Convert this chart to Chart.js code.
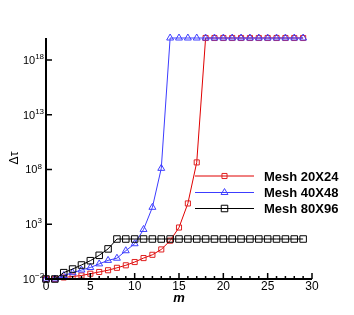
<!DOCTYPE html>
<html>
<head>
<meta charset="utf-8">
<script src="https://cdn.jsdelivr.net/npm/chart.js@4.4.1/dist/chart.umd.min.js"></script>
<style>
  html, body { margin: 0; padding: 0; background: #fff; }
</style>
</head>
<body>
<canvas id="c" width="354" height="315"></canvas>
<script>
// iteration index m
const mValues = [0, 1, 2, 3, 4, 5, 6, 7, 8, 9, 10, 11, 12, 13, 14,
                 15, 16, 17, 18, 19, 20, 21, 22, 23, 24, 25, 26, 27, 28, 29];

// delta tau
const mesh20 = [1e-2, 1e-2, 0.0138, 0.017, 0.0209, 0.0302, 0.0437, 0.0631, 0.105, 0.178,
                0.355, 0.813, 1.62, 5.0, 31.6, 501, 7.9e4, 4.4e8, 1e20, 1e20,
                1e20, 1e20, 1e20, 1e20, 1e20, 1e20, 1e20, 1e20, 1e20, 1e20];
const mesh40 = [1e-2, 1e-2, 0.0209, 0.0372, 0.066, 0.112, 0.24, 0.5, 0.79, 3.8,
                16.6, 331, 3.5e4, 1.26e8, 1e20, 1e20, 1e20, 1e20, 1e20, 1e20,
                1e20, 1e20, 1e20, 1e20, 1e20, 1e20, 1e20, 1e20, 1e20, 1e20];
const mesh80 = [1e-2, 1e-2, 0.038, 0.081, 0.19, 0.47, 1.45, 5.6, 44.7, 44.7,
                44.7, 44.7, 44.7, 44.7, 44.7, 44.7, 44.7, 44.7, 44.7, 44.7,
                44.7, 44.7, 44.7, 44.7, 44.7, 44.7, 44.7, 44.7, 44.7, 44.7];

const seriesNames = ["Mesh 20X24", "Mesh 40X48", "Mesh 80X96"];
const xTicks = [0, 5, 10, 15, 20, 25, 30];
const yTickExps = [-2, 3, 8, 13, 18];

const FONT = "'Liberation Sans', Arial, Helvetica, sans-serif";

function pts(vals) {
    return vals.map((v, i) => ({ x: mValues[i], y: v }));
}

// axes, ticks, labels and legend are drawn by hand (tecplot look)
const decor = {
    id: "decor",
    afterDatasetsDraw(chart) {
        const ctx = chart.ctx;
        const xs = chart.scales.x;
        const ys = chart.scales.y;
        const left = xs.getPixelForValue(0);
        const right = xs.getPixelForValue(30);
        const bottom = ys.getPixelForValue(1e-2);
        const top = ys.getPixelForValue(1e20);

        ctx.save();
        ctx.strokeStyle = "#000";
        ctx.lineWidth = 2;
        ctx.beginPath();
        ctx.moveTo(left, top);
        ctx.lineTo(left, bottom);
        ctx.lineTo(right, bottom);
        ctx.stroke();

        // x ticks (inward)
        ctx.lineWidth = 1.5;
        ctx.beginPath();
        for (let m = 0; m <= 30; m++) {
            const px = xs.getPixelForValue(m);
            const len = m % 5 === 0 ? 6 : 3;
            ctx.moveTo(px, bottom);
            ctx.lineTo(px, bottom - len);
        }
        // y ticks
        yTickExps.forEach(e => {
            const py = ys.getPixelForValue(Math.pow(10, e));
            ctx.moveTo(left, py);
            ctx.lineTo(left + 6, py);
        });
        ctx.stroke();

        ctx.fillStyle = "#000";
        ctx.font = "12px " + FONT;
        ctx.textAlign = "center";
        ctx.textBaseline = "middle";
        xTicks.forEach(t => {
            ctx.fillText(String(t), xs.getPixelForValue(t), bottom + 8);
        });

        yTickExps.forEach(e => {
            const py = ys.getPixelForValue(Math.pow(10, e));
            ctx.font = "11px " + FONT;
            const w1 = ctx.measureText("10").width;
            ctx.font = "8px " + FONT;
            const sup = String(e).replace("-", "\u2212");
            const w2 = ctx.measureText(sup).width;
            const x0 = 33.5 - (w1 + w2) / 2;
            ctx.textAlign = "left";
            ctx.font = "11px " + FONT;
            ctx.fillText("10", x0, py + 1);
            ctx.font = "8px " + FONT;
            ctx.fillText(sup, x0 + w1, py - 3);
        });

        // axis titles
        ctx.textAlign = "center";
        ctx.font = "italic bold 13px " + FONT;
        ctx.fillText("m", xs.getPixelForValue(15), 298);
        ctx.save();
        ctx.translate(15, 158);
        ctx.rotate(-Math.PI / 2);
        ctx.font = "12px " + FONT;
        ctx.fillText("\u0394\u03c4", 0, 0);
        ctx.restore();

        // legend
        const rows = [176, 192.5, 208.5];
        chart.data.datasets.forEach((ds, i) => {
            const y = rows[i];
            ctx.strokeStyle = ds.borderColor;
            ctx.lineWidth = 1;
            ctx.beginPath();
            ctx.moveTo(195, y);
            ctx.lineTo(254, y);
            ctx.stroke();
            ctx.lineWidth = ds.pointBorderWidth;
            ctx.strokeStyle = ds.pointBorderColor;
            ctx.fillStyle = "rgba(0,0,0,0)";
            Chart.helpers.drawPoint(ctx, {
                pointStyle: ds.pointStyle,
                radius: ds.pointRadius,
                borderWidth: ds.pointBorderWidth,
                rotation: 0
            }, 224.5, y);
            ctx.fillStyle = "#000";
            ctx.font = "bold 13px " + FONT;
            ctx.textAlign = "left";
            ctx.fillText(seriesNames[i], 264, y + 1);
        });
        ctx.restore();
    }
};

new Chart(document.getElementById("c"), {
    type: "line",
    data: {
        datasets: [
            {
                label: seriesNames[0],
                data: pts(mesh20),
                borderColor: "#e00000",
                pointBorderColor: "#e02020",
                pointBackgroundColor: "rgba(0,0,0,0)",
                pointStyle: "rect",
                pointRadius: 3.6,
                pointBorderWidth: 1,
                borderWidth: 1,
                order: 3,
                clip: false
            },
            {
                label: seriesNames[1],
                data: pts(mesh40),
                borderColor: "#3c3cff",
                pointBorderColor: "#4040ff",
                pointBackgroundColor: "rgba(0,0,0,0)",
                pointStyle: "triangle",
                pointRadius: 4,
                pointBorderWidth: 1,
                borderWidth: 1,
                order: 2,
                clip: false
            },
            {
                label: seriesNames[2],
                data: pts(mesh80),
                borderColor: "#000000",
                pointBorderColor: "#000000",
                pointBackgroundColor: "rgba(0,0,0,0)",
                pointStyle: "rect",
                pointRadius: 4.6,
                pointBorderWidth: 1,
                borderWidth: 1,
                order: 1,
                clip: false
            }
        ]
    },
    options: {
        responsive: false,
        animation: false,
        devicePixelRatio: 1,
        layout: { padding: { left: 46, right: 42, top: 38, bottom: 36 } },
        plugins: {
            legend: { display: false },
            tooltip: { enabled: false }
        },
        scales: {
            x: { type: "linear", min: 0, max: 30, display: false },
            y: { type: "logarithmic", min: 1e-2, max: 1e20, display: false }
        }
    },
    plugins: [decor]
});
</script>
</body>
</html>
